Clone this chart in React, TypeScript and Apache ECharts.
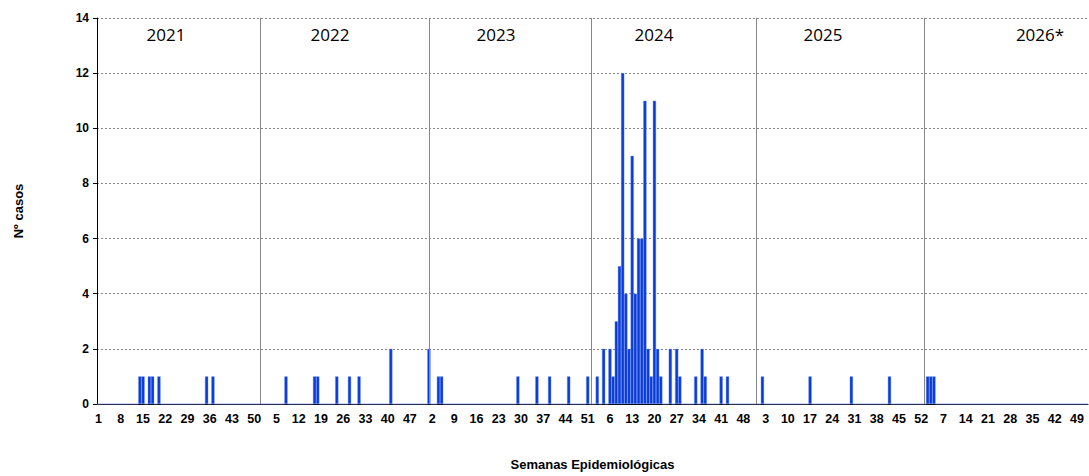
import React, { useEffect, useRef } from 'react';
import * as echarts from 'echarts';

// años representados y semanas por año
const years = [2021, 2022, 2023, 2024, 2025, 2026];
const weeksPerYear = 52;

// casos por semana [semana, casos]
const cases2021 = [[14, 1], [15, 1], [17, 1], [18, 1], [20, 1], [35, 1], [37, 1]];
const cases2022 = [[8, 1], [17, 1], [18, 1], [24, 1], [28, 1], [31, 1], [41, 2]];
const cases2023 = [[1, 2], [4, 1], [5, 1], [29, 1], [35, 1], [39, 1], [45, 1], [51, 1]];
const cases2024 = [
    [2, 1], [4, 2], [6, 2], [7, 1], [8, 3], [9, 5], [10, 12], [11, 4], [12, 2], [13, 9],
    [14, 4], [15, 6], [16, 6], [17, 11], [18, 2], [19, 1], [20, 11], [21, 2], [22, 1],
    [25, 2], [27, 2], [28, 1], [33, 1], [35, 2], [36, 1], [41, 1], [43, 1],
];
const cases2025 = [[2, 1], [17, 1], [30, 1], [42, 1]];
const cases2026 = [[2, 1], [3, 1], [4, 1]];
const casesByYear = [cases2021, cases2022, cases2023, cases2024, cases2025, cases2026];

// etiquetas de año
const yearLabels = ['2021', '2022', '2023', '2024', '2025', '2026*'];
const yearLabelX = [166, 330, 496, 654, 823, 1040];
// líneas divisorias entre años (categoría)
const dividers = ['2021-52', '2023-1', '2023-52', '2024-52', '2026-1'];

const App = () => {
    const chartRef = useRef(null);

    useEffect(() => {
        document.body.style.margin = '0';
        const myChart = echarts.init(chartRef.current, null, { renderer: 'svg' });

        const categories: string[] = [];
        const values: number[] = [];
        years.forEach((y, i) => {
            const map = new Map(casesByYear[i].map(([w, c]) => [w, c]));
            for (let w = 1; w <= weeksPerYear; w++) {
                categories.push(`${y}-${w}`);
                values.push(map.get(w) ?? 0);
            }
        });

        const boldLabel = { fontFamily: 'Arial, Liberation Sans', fontWeight: 'bold', fontSize: 12, color: '#000' };

        const option = {
            animation: false,
            grid: { left: 97, right: 1, top: 18, bottom: 68 },
            xAxis: {
                type: 'category',
                data: categories,
                name: 'Semanas Epidemiológicas',
                nameLocation: 'middle',
                nameGap: 54,
                nameTextStyle: { ...boldLabel, fontSize: 13 },
                axisLine: { lineStyle: { color: '#000' } },
                axisTick: { interval: 0, length: 4, lineStyle: { color: '#000' } },
                axisLabel: {
                    interval: 6,
                    ...boldLabel,
                    fontSize: 12.5,
                    margin: 8,
                    formatter: (v: string) => v.split('-')[1],
                },
            },
            yAxis: {
                type: 'value',
                min: 0,
                max: 14,
                interval: 2,
                name: 'Nº casos',
                nameLocation: 'middle',
                nameGap: 72,
                nameRotate: 90,
                nameTextStyle: { ...boldLabel, fontSize: 13 },
                axisLine: { show: true, lineStyle: { color: '#000' } },
                axisTick: { show: true, length: 4, lineStyle: { color: '#000' } },
                axisLabel: boldLabel,
                splitLine: { lineStyle: { color: '#888', type: [2, 2] } },
            },
            graphic: yearLabels.map((t, i) => ({
                type: 'text',
                x: yearLabelX[i],
                y: 34,
                style: {
                    text: t,
                    fontFamily: 'Open Sans',
                    fontSize: 17,
                    fill: '#000',
                    align: 'center',
                    verticalAlign: 'middle',
                },
            })),
            series: [
                {
                    type: 'bar',
                    data: values,
                    barWidth: 3.2,
                    itemStyle: { color: '#0a3cd8', borderColor: '#6f8ff0', borderWidth: 0.4 },
                    markLine: {
                        silent: true,
                        symbol: 'none',
                        label: { show: false },
                        lineStyle: { color: '#888', type: 'solid', width: 1 },
                        data: dividers.map((d) => ({ xAxis: d })),
                    },
                },
            ],
        };

        myChart.setOption(option);
        return () => {
            myChart.dispose();
        };
    }, []);

    return <div ref={chartRef} style={{ width: '1089px', height: '476px' }} />;
};

export default App;
